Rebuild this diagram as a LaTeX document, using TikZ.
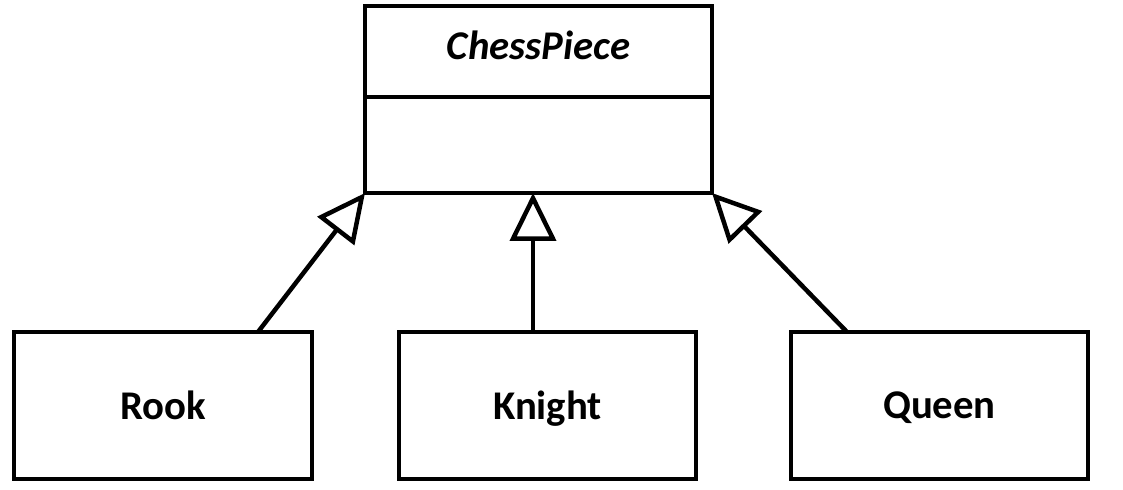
\documentclass[tikz,border=0pt]{standalone}
\usepackage{fontspec}
\setmainfont{Carlito}
\usetikzlibrary{arrows.meta,positioning}

\begin{document}
\begin{tikzpicture}[
  line width=3.2pt,
  every node/.style={font=\fontsize{29}{34}\selectfont\bfseries},
  classbox/.style={draw,rectangle,outer sep=0pt,inner sep=0pt,text depth=0pt},
  inherit/.style={-{Triangle[open,length=1.2cm,width=1.15cm]}}
]
\useasboundingbox (0,0) rectangle (28.075,12.25);
\node[classbox,minimum width=8.675cm,minimum height=2.275cm,text depth=0.3cm]
  (chess) at (13.4625,10.9625) {\itshape ChessPiece};
\node[classbox,minimum width=8.675cm,minimum height=2.4cm,below=0pt of chess] (chessbody) {};
\node[classbox,minimum width=7.45cm,minimum height=3.675cm] (rook) at (4.075,2.1125) {Rook};
\node[classbox,minimum width=7.425cm,minimum height=3.675cm] (knight) at (13.6875,2.1125) {Knight};
\node[classbox,minimum width=7.425cm,minimum height=3.675cm] (queen) at (23.4875,2.1125) {Queen};
\coordinate (rk) at ([xshift=2.375cm]rook.north);
\coordinate (kn) at ([xshift=-0.3625cm]knight.north);
\coordinate (qn) at ([xshift=-2.3125cm]queen.north);
\draw[inherit] (rk) -- (chessbody.south west);
\draw[inherit] (kn) -- (kn |- chessbody.south);
\draw[inherit] (qn) -- (chessbody.south east);
\end{tikzpicture}
\end{document}
